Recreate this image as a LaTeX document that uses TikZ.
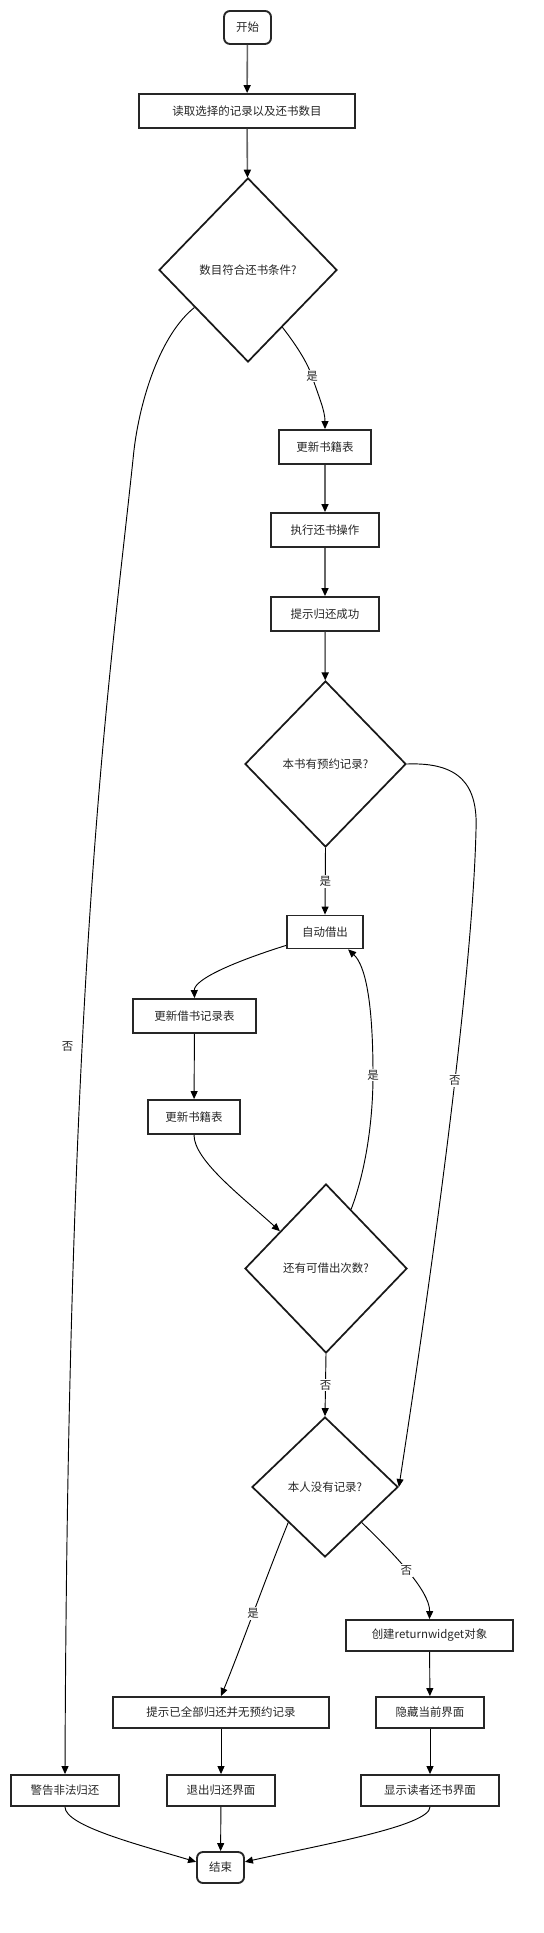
\documentclass[tikz,border=0pt]{standalone}
\usepackage{fontspec}
\setmainfont{Noto Sans CJK SC}
\usetikzlibrary{shapes.geometric,arrows.meta}
\begin{document}
\begin{tikzpicture}[x=0.75pt,y=-0.75pt,
  font=\fontsize{8.6pt}{10pt}\selectfont,
  box/.style={draw=black!85, line width=1.4pt, rectangle, inner sep=0pt, minimum height=25.5pt, text=black!85},
  sbox/.style={box, minimum height=23.25pt},
  term/.style={box, rounded corners=4.5pt},
  dec/.style={draw=black!90, line width=1.3pt, diamond, inner sep=0pt, text=black!85},
  flow/.style={-{Triangle[length=6pt,width=5.25pt,color=black]}, line width=0.7pt, draw=black},
  gflow/.style={flow, draw=black!60, line width=1.2pt},
  lbl/.style={fill=white, inner sep=1pt, text=black!85}]
\useasboundingbox (0,0) rectangle (543,1933);

\node[term, minimum width=35.25pt, minimum height=24.75pt] (start) at (247.5,27.5) {开始};
\node[box, minimum width=162pt] (read) at (247,111) {读取选择的记录以及还书数目};
\node[dec, minimum width=133.5pt, minimum height=138pt] (d1) at (248,270) {数目符合还书条件?};
\node[box, minimum width=69pt] (upd1) at (325,447) {更新书籍表};
\node[box, minimum width=81pt] (exec) at (325,530) {执行还书操作};
\node[box, minimum width=81pt] (succ) at (325,614) {提示归还成功};
\node[dec, minimum width=120.75pt, minimum height=124.5pt] (d2) at (325.5,764) {本书有预约记录?};
\node[box, minimum width=57pt, minimum height=24.75pt] (auto) at (325,932) {自动借出};
\node[box, minimum width=92.25pt] (borrow) at (194.5,1016) {更新借书记录表};
\node[box, minimum width=69pt] (upd2) at (194,1117) {更新书籍表};
\node[dec, minimum width=121.5pt, minimum height=126.75pt] (d3) at (326,1268.5) {还有可借出次数?};
\node[dec, minimum width=109.5pt, minimum height=105pt] (d4) at (325,1487) {本人没有记录?};
\node[sbox, minimum width=125.25pt] (create) at (429.5,1635.5) {创建returnwidget对象};
\node[sbox, minimum width=162pt] (allret) at (221,1712.5) {提示已全部归还并无预约记录};
\node[sbox, minimum width=81pt] (hide) at (430,1712.5) {隐藏当前界面};
\node[sbox, minimum width=81pt] (warn) at (65,1790.5) {警告非法归还};
\node[sbox, minimum width=81pt] (exit) at (221,1790.5) {退出归还界面};
\node[sbox, minimum width=103.5pt] (show) at (430,1790.5) {显示读者还书界面};
\node[term, minimum width=35.25pt, minimum height=23.25pt] (end) at (220.5,1867.5) {结束};

% gray straight flows
\draw[gflow] (start) -- (read);
\draw[gflow] (read) -- (d1);
\draw[gflow] (upd1) -- (exec);
\draw[gflow] (exec) -- (succ);
\draw[gflow] (succ) -- (d2);

% d1 yes
\draw[flow] (d1.301) .. controls (300,350) and (308,365) .. (312,376) node[lbl]{是}
  .. controls (318,395) and (325,410) .. (upd1.north);
% d1 no
\draw[flow] (d1.215) .. controls (160,335) and (140,400) .. (134,450)
  .. controls (110,680) and (68,950) .. node[lbl,pos=0.62,xshift=-11pt]{否} (warn.north);

% d2 yes
\draw[flow] (d2.south) -- node[lbl]{是} (auto.north);
% d2 no
\draw[flow] (d2.east) .. controls (460,762) and (478,785) .. (476,830)
  .. controls (472,1000) and (420,1350) .. node[lbl,pos=0.38]{否} (d4.east);

\draw[flow] (auto.199) .. controls (230,963) and (194,980) .. (borrow.north);
\draw[flow] (borrow) -- (upd2);
\draw[flow] (upd2.south) .. controls (194,1160) and (240,1195) .. (d3.141);
% d3 yes
\draw[flow] (d3.67) .. controls (366,1170) and (373,1120) .. (373,1075) node[lbl]{是}
  .. controls (373,1000) and (365,965) .. (auto.323);
% d3 no
\draw[flow] (d3.south) -- node[lbl]{否} (d4.north);

% d4
\draw[flow] (d4.224) .. controls (265,1580) and (240,1650) .. node[lbl,pos=0.5]{是} (allret.north);
\draw[flow] (d4.316) .. controls (390,1550) and (430,1590) .. node[lbl,pos=0.5]{否} (create.north);

\draw[flow] (create) -- (hide);
\draw[flow] (hide) -- (show);
\draw[flow] (allret) -- (exit);
\draw[flow] (exit) -- (end);
\draw[flow] (warn.south) .. controls (65,1826) and (140,1845) .. (end.167);
\draw[flow] (show.south) .. controls (430,1826) and (320,1845) .. (end.13);
\end{tikzpicture}
\end{document}
